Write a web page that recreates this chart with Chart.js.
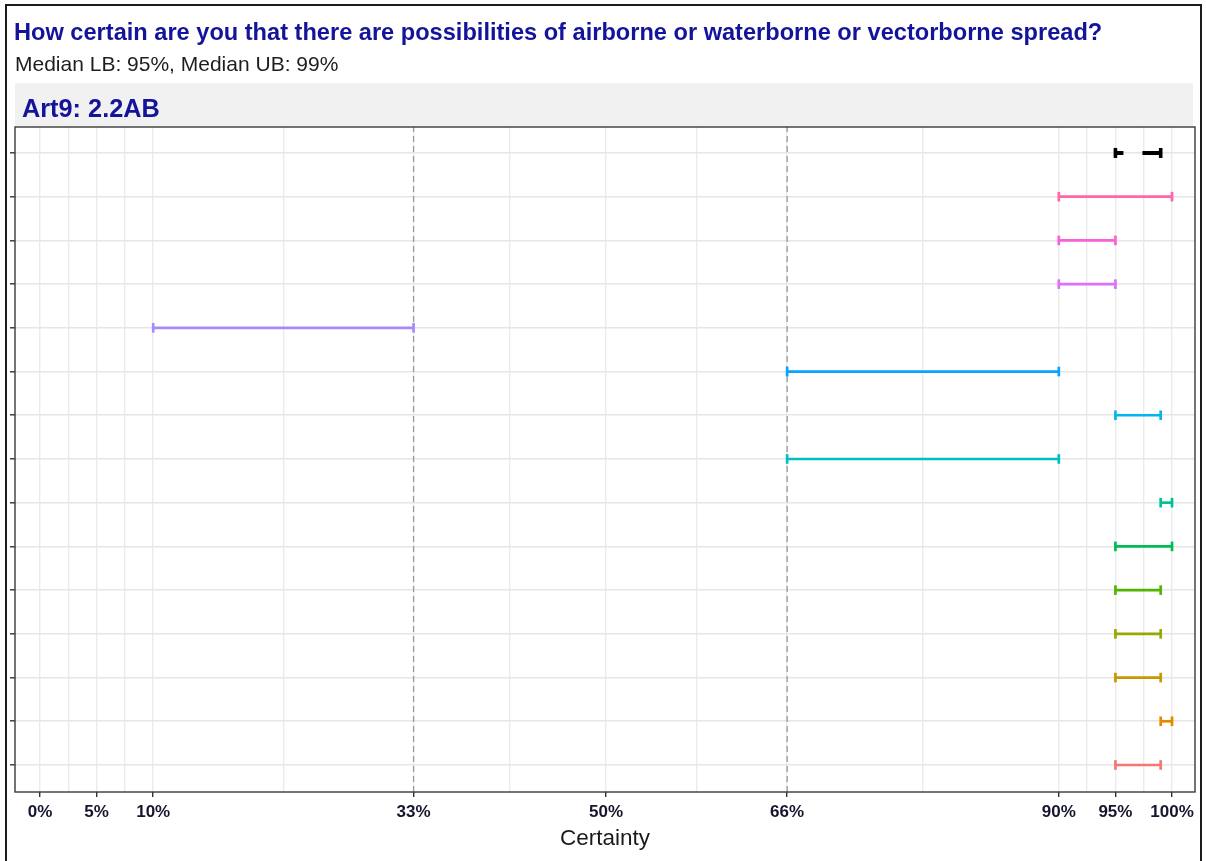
<!DOCTYPE html>
<html>
<head>
<meta charset="utf-8">
<script src="https://cdn.jsdelivr.net/npm/chart.js@4.4.1/dist/chart.umd.min.js"></script>
<style>
  html, body { margin: 0; padding: 0; background: #ffffff; }
  body { width: 1206px; height: 861px; position: relative; overflow: hidden;
         font-family: "Liberation Sans", Arial, sans-serif; }
  #frame { position: absolute; left: 5px; top: 4px; width: 1193px; height: 900px;
           border: 2px solid #1c1c1c; pointer-events: none; z-index: 3; }
  #title { position: absolute; left: 14px; top: 21px; font-size: 23.6px; line-height: 1;
           font-weight: bold; color: #14149a; white-space: nowrap; z-index: 2; }
  #subtitle { position: absolute; left: 15px; top: 53px; font-size: 21px; line-height: 1;
              color: #1e1e1e; white-space: nowrap; z-index: 2; }
  #strip { position: absolute; left: 15px; top: 83px; width: 1178px; height: 44px;
           background: #f1f1f1; z-index: 1; }
  #stripText { position: absolute; left: 22px; top: 96px; font-size: 25.3px; line-height: 1;
               font-weight: bold; color: #14149a; white-space: nowrap; z-index: 2; }
  #chart { position: absolute; left: 0; top: 0; z-index: 1; }
</style>
</head>
<body>
<div id="strip"></div>
<div id="title">How certain are you that there are possibilities of airborne or waterborne or vectorborne spread?</div>
<div id="subtitle"></div>
<div id="stripText"></div>
<canvas id="chart" width="1206" height="861"></canvas>
<div id="frame"></div>
<script>
// Expert intervals, listed from the bottom row upwards
const experts = ['Expert 1', 'Expert 2', 'Expert 3', 'Expert 4', 'Expert 5', 'Expert 6', 'Expert 7',
                 'Expert 8', 'Expert 9', 'Expert 10', 'Expert 11', 'Expert 12', 'Expert 13', 'Expert 14'];
const lowerBounds = [95, 99, 95, 95, 95, 95, 99, 66, 95, 66, 10, 90, 90, 90];
const upperBounds = [99, 100, 99, 99, 99, 100, 100, 90, 99, 90, 33, 95, 95, 100];
const expertColors = ['#F8766D', '#E38900', '#C49A00', '#99A800', '#53B400', '#00BC56', '#00C094',
                      '#00BFC4', '#00B6EB', '#06A4FF', '#A58AFF', '#DF70F8', '#FB61D7', '#FF66A8'];

// Pooled median interval (top row)
const medianLB = 95;
const medianUB = 99;

// Axis breaks and reference lines
const majorTicks = [0, 5, 10, 33, 50, 66, 90, 95, 100];
const referenceLines = [33, 66];
const panelTitle = 'Art9: 2.2AB';

document.getElementById('subtitle').textContent =
  'Median LB: ' + medianLB + '%, Median UB: ' + medianUB + '%';
document.getElementById('stripText').textContent = panelTitle;

const rowCount = experts.length + 1;
const yMin = 0.382, yMax = rowCount + 0.594;

// minor grid lines sit half-way between the labelled breaks
const minorTicks = majorTicks.slice(1).map((v, i) => (v + majorTicks[i]) / 2);
const allTicks = majorTicks.concat(minorTicks).sort((a, b) => a - b);

const datasets = [];
experts.forEach((name, i) => {
  datasets.push({
    label: name,
    data: [{ x: lowerBounds[i], y: i + 1 }, { x: upperBounds[i], y: i + 1 }],
    borderColor: expertColors[i],
    borderWidth: 2.7,
    pointStyle: 'line',
    rotation: 90,
    pointRadius: 4.8,
    pointBorderWidth: 2.7,
    pointBorderColor: expertColors[i],
    pointBackgroundColor: expertColors[i],
    order: 0
  });
});
datasets.push({
  label: 'Median',
  data: [{ x: medianLB, y: rowCount }, { x: medianUB, y: rowCount }],
  borderColor: '#000000',
  borderWidth: 4,
  borderDash: [8, 19, 30],
  pointStyle: 'line',
  rotation: 90,
  pointRadius: 5,
  pointBorderWidth: 3.6,
  pointBorderColor: '#000000',
  order: 0
});
referenceLines.forEach(v => {
  datasets.push({
    label: 'ref ' + v,
    data: [{ x: v, y: yMin }, { x: v, y: yMax }],
    borderColor: '#9a9a9a',
    borderWidth: 1.3,
    borderDash: [6, 4],
    pointRadius: 0,
    order: 1
  });
});

const panelBorder = {
  id: 'panelBorder',
  afterDraw(chart) {
    const { ctx, chartArea: a } = chart;
    ctx.save();
    ctx.strokeStyle = '#3a3a3a';
    ctx.lineWidth = 1.4;
    ctx.strokeRect(a.left, a.top, a.right - a.left, a.bottom - a.top);
    ctx.restore();
  }
};

new Chart(document.getElementById('chart'), {
  type: 'line',
  data: { datasets },
  plugins: [panelBorder],
  options: {
    responsive: false,
    animation: false,
    devicePixelRatio: 1,
    layout: { padding: { top: 127, right: 11, left: 0, bottom: 0 } },
    plugins: { legend: { display: false }, tooltip: { enabled: false } },
    elements: { line: { tension: 0 } },
    scales: {
      x: {
        type: 'linear',
        min: -2.208,
        max: 102.03,
        afterBuildTicks: s => { s.ticks = allTicks.map(v => ({ value: v })); },
        afterFit: s => { s.height = 69; },
        border: { display: false },
        grid: {
          color: '#ebebeb',
          lineWidth: 1.4,
          tickLength: 5,
          tickWidth: 1.4,
          tickColor: c => (majorTicks.includes(c.tick.value) ? '#333333' : 'rgba(0,0,0,0)')
        },
        ticks: {
          autoSkip: false,
          maxRotation: 0,
          padding: 5,
          color: '#15152e',
          font: { family: '"Liberation Sans", Arial, sans-serif', size: 17, weight: 'bold' },
          callback: v => (majorTicks.includes(v) ? v + '%' : '')
        },
        title: {
          display: true,
          text: 'Certainty',
          color: '#1a1a1a',
          font: { family: '"Liberation Sans", Arial, sans-serif', size: 22.5 },
          padding: { top: 0, bottom: 9 }
        }
      },
      y: {
        type: 'linear',
        min: yMin,
        max: yMax,
        afterBuildTicks: s => {
          s.ticks = Array.from({ length: rowCount }, (_, i) => ({ value: i + 1 }));
        },
        afterFit: s => { s.width = 15; },
        border: { display: false },
        grid: {
          color: '#e6e6e6',
          lineWidth: 1.6,
          tickLength: 5,
          tickWidth: 1.4,
          tickColor: '#333333'
        },
        ticks: { display: false }
      }
    }
  }
});
</script>
</body>
</html>
